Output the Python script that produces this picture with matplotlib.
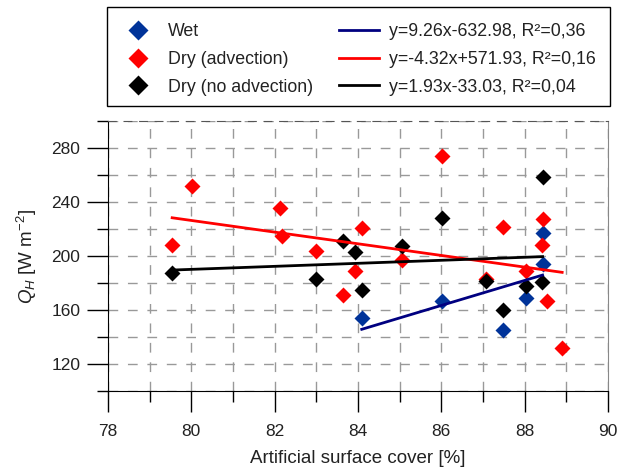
import numpy as np
import matplotlib
matplotlib.use("Agg")
import matplotlib.pyplot as plt
from matplotlib.lines import Line2D
from matplotlib.patches import Rectangle
from matplotlib.ticker import MultipleLocator

plt.rcParams['font.family'] = ['Liberation Sans', 'DejaVu Sans']
plt.rcParams['mathtext.fontset'] = 'custom'
plt.rcParams['mathtext.rm'] = 'Liberation Sans'
plt.rcParams['mathtext.it'] = 'Liberation Sans:italic'

# data
wet_x = [84.09, 86.01, 87.49, 88.04, 88.43, 88.43]
wet_y = [153.9, 166.4, 145.2, 168.9, 217.0, 194.1]

adv_x = [79.54, 80.02, 82.13, 82.17, 82.99, 83.63, 83.92, 84.09, 85.05, 86.01,
         87.07, 87.49, 88.04, 88.43, 88.41, 88.54, 88.90]
adv_y = [208.4, 251.6, 235.8, 214.8, 203.5, 171.3, 188.7, 220.7, 197.0, 273.8,
         183.0, 221.7, 188.7, 227.4, 208.1, 167.0, 131.6]

noadv_x = [79.54, 82.99, 83.63, 83.92, 84.09, 85.05, 86.01, 87.07, 87.49, 88.04,
           88.43, 88.41]
noadv_y = [187.4, 183.0, 210.9, 202.8, 174.8, 207.2, 227.9, 181.7, 160.0, 178.0,
           258.8, 180.5]

# regression lines (slope, intercept) as drawn
wet_fit = (9.26, -632.98)
adv_fit = (-4.32, 571.93)
noadv_fit = (1.12, 100.5)

fit_labels = ['y=9.26x-632.98, R\u00b2=0,36',
              'y=-4.32x+571.93, R\u00b2=0,16',
              'y=1.93x-33.03, R\u00b2=0,04']
group_labels = ['Wet', 'Dry (advection)', 'Dry (no advection)']

marker_colors = ['#003399', '#ff0000', '#000000']
line_colors = ['#000080', '#ff0000', '#000000']

fig = plt.figure(figsize=(6.24, 4.72), dpi=100)
ax = fig.add_axes([108 / 624, 1 - 391 / 472, 500 / 624, 270 / 472])

groups = [(wet_x, wet_y, wet_fit), (adv_x, adv_y, adv_fit), (noadv_x, noadv_y, noadv_fit)]
for (gx, gy, fit), mc, lc in zip(groups, marker_colors, line_colors):
    ax.plot(gx, gy, 'D', color=mc, ms=8.2, mec='none', zorder=3)
    xs = np.array([min(gx), max(gx)])
    ax.plot(xs, fit[0] * xs + fit[1], color=lc, lw=2, zorder=4)

ax.set_xlim(78, 90)
ax.set_ylim(100, 300)
ax.xaxis.set_major_locator(MultipleLocator(2))
ax.xaxis.set_minor_locator(MultipleLocator(1))
ax.set_yticks([120, 160, 200, 240, 280])
ax.set_yticks([100, 140, 180, 220, 260, 300], minor=True)

ax.grid(True, which='both', color='#999999', linestyle=(0, (7, 7)), linewidth=1)
ax.set_axisbelow(True)
ax.tick_params(which='major', direction='out', length=15, width=1,
               labelsize=12.5, labelcolor='#222222')
ax.tick_params(axis='x', which='major', pad=9)
ax.tick_params(axis='y', which='major', pad=5)
ax.tick_params(which='minor', direction='out', length=8, width=1)
ax.spines['top'].set_linestyle((0, (7, 7)))
ax.spines['top'].set_color('#555555')
ax.spines['right'].set_color('#888888')

ax.set_xlabel('Artificial surface cover [%]', fontsize=13.5, labelpad=8, color='#222222')
ax.set_ylabel('$Q_H$ [W m$^{-2}$]', fontsize=13.5, labelpad=9, color='#222222')

# legend box above the axes
fig.add_artist(Rectangle((107 / 624, 1 - 106 / 472), 503 / 624, 99 / 472,
                         transform=fig.transFigure, fill=False,
                         edgecolor='black', linewidth=1))
handles = [Line2D([], [], marker='D', ls='none', color=c, ms=10, mec='none') for c in marker_colors]
handles += [Line2D([], [], color=c, lw=2) for c in line_colors]
leg = fig.legend(handles, group_labels + fit_labels, ncol=2, loc='center',
                 bbox_to_anchor=(357 / 624, 1 - 59.5 / 472),
                 fontsize=12.8, frameon=False, handlelength=2.25,
                 handletextpad=0.56, columnspacing=1.46, labelspacing=0.6,
                 borderpad=0)
for t in leg.get_texts():
    t.set_color('#222222')

fig.savefig('out.png', dpi=100)
